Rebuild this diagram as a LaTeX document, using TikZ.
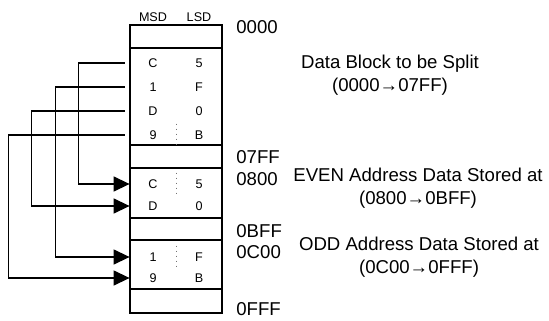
\documentclass[tikz,border=0pt]{standalone}
\usepackage{fontspec}
\setmainfont{Liberation Sans}
\usetikzlibrary{arrows.meta, positioning, calc}
\tikzset{
  memblk/.style = {draw=black, line width=0.6pt},
  cel/.style = {inner sep=0pt, minimum width=46pt, minimum height=11pt,
    font=\fontsize{6.3}{7}\selectfont},
  addr/.style = {anchor=west, inner sep=0pt, font=\fontsize{9.3}{11}\selectfont},
  rot/.style = {align=center, inner sep=0pt, font=\fontsize{9.3}{11.5}\selectfont},
  split/.style = {draw=black!55, dotted, line width=0.5pt},
  mov/.style = {-{Triangle[length=8pt, width=7.5pt]}, line width=0.7pt,
    shorten <=2.5pt}
}
\newcommand{\cv}[2]{\makebox[23pt]{#1}\makebox[23pt]{#2}}

\begin{document}
\begin{tikzpicture}[x=0.5pt, y=-0.5pt]
  \useasboundingbox (0,0) rectangle (549,320);
  % memory column
  \draw [memblk] (130,25) rectangle (222,313);
  \foreach \y in {48, 145, 168, 218, 240, 289} \draw [memblk] (130,\y) -- (222,\y);
  \node [cel] (hd) at (176,17) {\cv{MSD}{LSD}};
  \node [cel] (s1) at (176,63) {\cv{C}{5}};
  \node [cel] (s2) at (176,87) {\cv{1}{F}};
  \node [cel] (s3) at (176,111) {\cv{D}{0}};
  \node [cel] (s4) at (176,135) {\cv{9}{B}};
  \node [cel] (e1) at (176,184) {\cv{C}{5}};
  \node [cel] (e2) at (176,206) {\cv{D}{0}};
  \node [cel] (o1) at (176,257) {\cv{1}{F}};
  \node [cel] (o2) at (176,278) {\cv{9}{B}};
  \foreach \c in {s4, e1, o1} \draw [split] (\c.north) -- (\c.south);
  % moves
  \draw [mov] (s1.west) -- ++(-51,0) |- (e1.west);
  \draw [mov] (s2.west) -- ++(-74,0) |- (o1.west);
  \draw [mov] (s3.west) -- ++(-98,0) |- (e2.west);
  \draw [mov] (s4.west) -- ++(-121,0) |- (o2.west);
  % addresses
  \node [addr] (a0) at (236,27) {0000};
  \node [addr] (a1) at (236,157) {07FF};
  \node [addr] (a2) at (236,179) {0800};
  \node [addr] (a3) at (236,231) {0BFF};
  \node [addr] (a4) at (236,252) {0C00};
  \node [addr] (a5) at (236,309) {0FFF};
  \node [rot] (t1) at (390,75) {Data Block to be Split\\(0000→07FF)};
  \node [rot] (t2) at (418,188) {EVEN Address Data Stored at\\(0800→0BFF)};
  \node [rot] (t3) at (419,257) {ODD Address Data Stored at\\(0C00→0FFF)};
\end{tikzpicture}
\end{document}
